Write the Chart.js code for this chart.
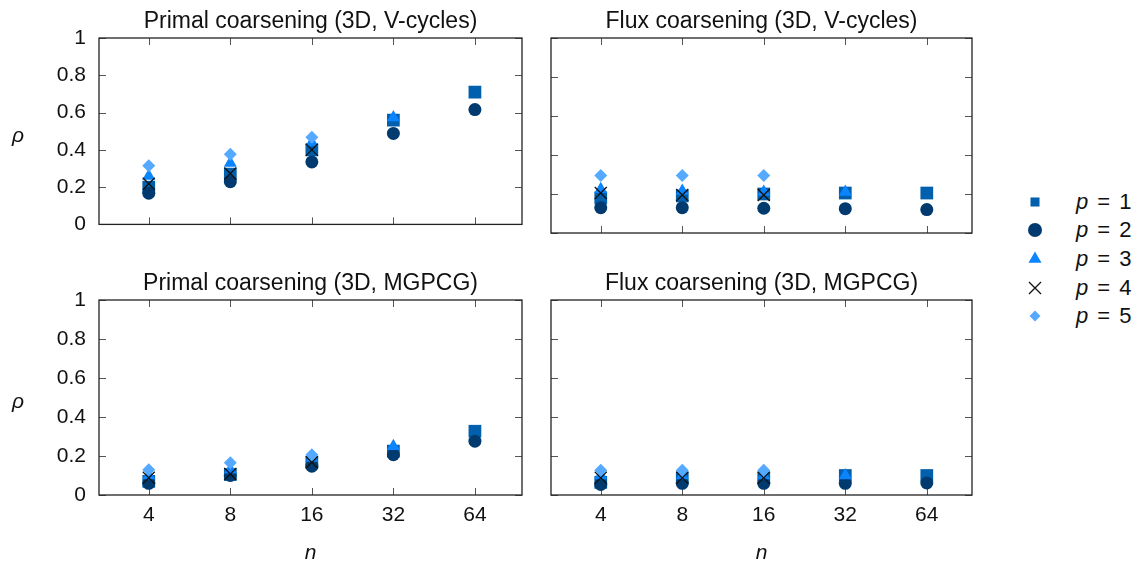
<!DOCTYPE html>
<html>
<head>
<meta charset="utf-8">
<script src="https://cdn.jsdelivr.net/npm/chart.js@4.4.0/dist/chart.umd.min.js"></script>
<style>
  body { margin: 0; background: #fff; }
  #wrap { position: relative; width: 1136px; height: 563px; overflow: hidden; font-family: "Liberation Sans", Arial, sans-serif; color: #111; }
  #wrap canvas { position: absolute; }
  .rho { position: absolute; font-style: italic; font-size: 21px; transform: translate(-50%, -50%); }
  .leg { position: absolute; font-size: 22px; word-spacing: 3px; transform: translateY(-50%); white-space: pre; }
</style>
</head>
<body>
<div id="wrap">
  <canvas id="tl" width="540" height="250" style="left:0;top:0"></canvas>
  <canvas id="tr" width="450" height="250" style="left:540px;top:0"></canvas>
  <canvas id="bl" width="540" height="304" style="left:0;top:262px"></canvas>
  <canvas id="br" width="450" height="304" style="left:540px;top:262px"></canvas>
  <div class="rho" style="left:18px;top:135px">ρ</div>
  <div class="rho" style="left:18px;top:401px">ρ</div>
</div>
<script>
// =====================
// Data
// =====================
const nValues = [4, 8, 16, 32, 64];
const seriesLabels = ["p = 1", "p = 2", "p = 3", "p = 4", "p = 5"];

// Primal coarsening, V-cycles
const primalV1 = [0.20, 0.27, 0.40, 0.56, 0.71];
const primalV2 = [0.167, 0.229, 0.335, 0.488, 0.616];
const primalV3 = [0.26, 0.33, 0.44, 0.573];
const primalV4 = [0.218, 0.273, 0.40];
const primalV5 = [0.315, 0.377, 0.467];

// Flux coarsening, V-cycles
const fluxV1 = [0.18, 0.19, 0.20, 0.205, 0.205];
const fluxV2 = [0.13, 0.13, 0.127, 0.125, 0.12];
const fluxV3 = [0.225, 0.215, 0.21, 0.21];
const fluxV4 = [0.205, 0.195, 0.195];
const fluxV5 = [0.295, 0.295, 0.295];

// Primal coarsening, MGPCG
const primalM1 = [0.07, 0.105, 0.168, 0.225, 0.327];
const primalM2 = [0.06, 0.10, 0.148, 0.207, 0.276];
const primalM3 = [0.10, 0.13, 0.19, 0.25];
const primalM4 = [0.088, 0.108, 0.168];
const primalM5 = [0.13, 0.165, 0.207];

// Flux coarsening, MGPCG
const fluxM1 = [0.065, 0.088, 0.088, 0.10, 0.10];
const fluxM2 = [0.054, 0.06, 0.06, 0.06, 0.062];
const fluxM3 = [0.10, 0.10, 0.10, 0.10];
const fluxM4 = [0.088, 0.088, 0.088];
const fluxM5 = [0.127, 0.127, 0.127];

const yTicks = [0, 0.2, 0.4, 0.6, 0.8, 1];

// =====================
// Marker styles
// =====================
const markers = [
  { pointStyle: "rect",     color: "#0060ad", radius: 9,   border: 0 },
  { pointStyle: "circle",   color: "#003a6e", radius: 6.5, border: 0 },
  { pointStyle: "triangle", color: "#0a84ff", radius: 7.5, border: 0 },
  { pointStyle: "crossRot", color: "#111111", radius: 8.5, border: 1.3 },
  { pointStyle: "rectRot",  color: "#55aaff", radius: 6.5, border: 0 }
];

function toPoints(values) {
  return values.map((v, i) => ({ x: nValues[i], y: v }));
}

// box + inward ticks on all four sides, like the gnuplot frame
const frameTicks = {
  id: "frameTicks",
  beforeDatasetsDraw(chart) {
    const { ctx, chartArea: a, scales } = chart;
    const len = 7;
    ctx.save();
    ctx.strokeStyle = "#555";
    ctx.lineWidth = 1;
    ctx.beginPath();
    scales.x.ticks.forEach(t => {
      const px = Math.round(scales.x.getPixelForValue(t.value)) + 0.5;
      ctx.moveTo(px, a.bottom); ctx.lineTo(px, a.bottom - len);
      ctx.moveTo(px, a.top); ctx.lineTo(px, a.top + len);
    });
    yTicks.forEach(v => {
      const py = Math.round(scales.y.getPixelForValue(v)) + 0.5;
      ctx.moveTo(a.left, py); ctx.lineTo(a.left + len, py);
      ctx.moveTo(a.right, py); ctx.lineTo(a.right - len, py);
    });
    ctx.stroke();
    ctx.strokeStyle = "#222";
    ctx.lineWidth = 1.3;
    ctx.strokeRect(a.left, a.top, a.right - a.left, a.bottom - a.top);
    ctx.restore();
  }
};

function makePanel(id, title, series, opts) {
  const datasets = series.map((vals, i) => ({
    label: seriesLabels[i],
    data: toPoints(vals),
    pointStyle: markers[i].pointStyle,
    pointRadius: markers[i].radius,
    pointHoverRadius: markers[i].radius,
    backgroundColor: markers[i].color,
    borderColor: markers[i].color,
    pointBorderWidth: markers[i].border,
    order: 5 - i
  }));

  new Chart(document.getElementById(id), {
    type: "scatter",
    data: { datasets },
    plugins: [frameTicks],
    options: {
      responsive: false,
      animation: false,
      events: [],
      layout: { padding: { top: 0, left: 0, right: 18, bottom: 0 } },
      plugins: {
        legend: { display: false },
        tooltip: { enabled: false },
        title: {
          display: true,
          text: title,
          fullSize: false,
          color: "#111",
          font: { family: "Liberation Sans", size: 23, weight: "normal" },
          padding: { top: 7.5, bottom: 2.9 }
        }
      },
      scales: {
        x: {
          type: "logarithmic",
          min: 2.62,
          max: opts.xMax,
          afterBuildTicks: s => { s.ticks = nValues.map(v => ({ value: v })); },
          afterFit: s => { s.height = opts.xHeight; },
          grid: { display: false, drawTicks: false },
          border: { display: false },
          ticks: {
            display: opts.showX,
            padding: 8,
            color: "#111",
            font: { family: "Liberation Sans", size: 21 },
            callback: v => String(v)
          },
          title: {
            display: opts.showX,
            text: "n",
            color: "#111",
            padding: { top: 0, bottom: 0 },
            font: { family: "Liberation Sans", size: 21, style: "italic" }
          }
        },
        y: {
          min: 0,
          max: 1,
          afterBuildTicks: s => { s.ticks = yTicks.map(v => ({ value: v })); },
          afterFit: s => { s.width = opts.yWidth; },
          grid: { display: false, drawTicks: false },
          border: { display: false },
          ticks: {
            display: opts.showY,
            padding: 13,
            color: "#111",
            font: { family: "Liberation Sans", size: 21 },
            callback: v => String(v)
          }
        }
      }
    }
  });
}

// =====================
// Legend (html, markers drawn with Chart.js point helper)
// =====================
function buildLegend() {
  const wrap = document.getElementById("wrap");
  const rowY = [202, 230, 259, 288, 316];
  const legRadius = [6.4, 7, 7.5, 8.5, 5.5];
  rowY.forEach((y, i) => {
    const c = document.createElement("canvas");
    c.width = 30; c.height = 28;
    c.style.left = "1020px";
    c.style.top = (y - 14) + "px";
    wrap.appendChild(c);
    const ctx = c.getContext("2d");
    ctx.fillStyle = markers[i].color;
    ctx.strokeStyle = markers[i].color;
    ctx.lineWidth = markers[i].border || 1;
    Chart.helpers.drawPoint(ctx, {
      pointStyle: markers[i].pointStyle,
      radius: legRadius[i],
      rotation: 0,
      borderWidth: markers[i].border
    }, 15, 14);

    const t = document.createElement("div");
    t.className = "leg";
    t.style.left = "1076px";
    t.style.top = y + "px";
    t.innerHTML = "<i>p</i> = " + (i + 1);
    wrap.appendChild(t);
  });
}

function init() {
  makePanel("tl", "Primal coarsening (3D, V-cycles)",
    [primalV1, primalV2, primalV3, primalV4, primalV5],
    { showX: false, showY: true, xHeight: 17, yWidth: 99, xMax: 95.5 });
  makePanel("tr", "Flux coarsening (3D, V-cycles)",
    [fluxV1, fluxV2, fluxV3, fluxV4, fluxV5],
    { showX: false, showY: false, xHeight: 17, yWidth: 11, xMax: 94 });
  makePanel("bl", "Primal coarsening (3D, MGPCG)",
    [primalM1, primalM2, primalM3, primalM4, primalM5],
    { showX: true, showY: true, xHeight: 71, yWidth: 99, xMax: 95.5 });
  makePanel("br", "Flux coarsening (3D, MGPCG)",
    [fluxM1, fluxM2, fluxM3, fluxM4, fluxM5],
    { showX: true, showY: false, xHeight: 71, yWidth: 11, xMax: 94 });
  buildLegend();
}

document.addEventListener("DOMContentLoaded", init);
</script>
</body>
</html>
